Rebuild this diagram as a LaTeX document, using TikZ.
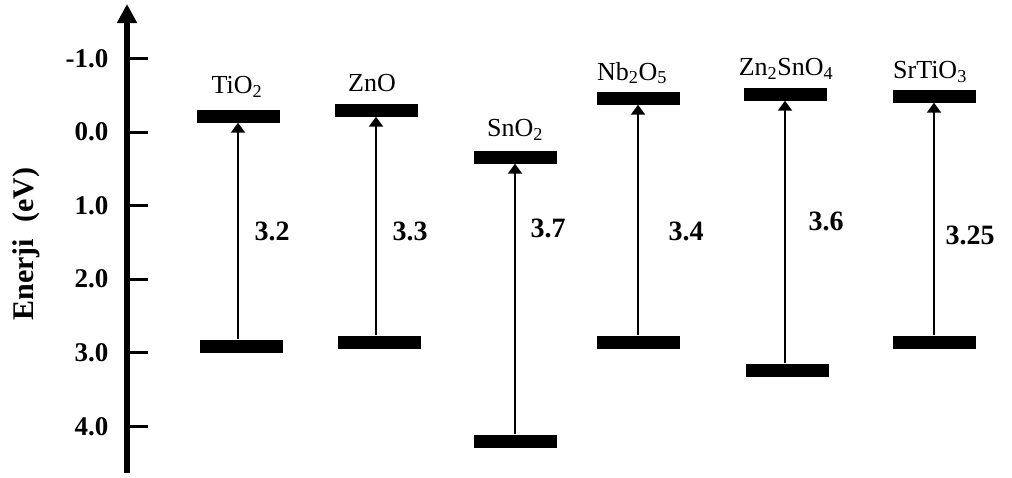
\documentclass[tikz,border=0pt]{standalone}
\usepackage{fontspec}
\setmainfont{Liberation Serif}
\usetikzlibrary{arrows.meta}
\begin{document}
\begin{tikzpicture}[x=1pt,y=-1pt,
  band/.style={fill=black,inner sep=0pt,minimum width=83pt,minimum height=13pt},
  gap/.style={line width=2pt,-{Triangle[width=14pt,length=10pt]}},
  oxide/.style={font=\fontsize{26}{26}\selectfont},
  value/.style={font=\fontsize{28}{28}\selectfont\bfseries},
  ticklab/.style={anchor=east,font=\fontsize{27}{27}\selectfont\bfseries},
  tickmark/.style={line width=3pt}]
\useasboundingbox (0,0) rectangle (1012,477);

% energy axis
\coordinate (axbot) at (127,473);
\coordinate (axtop) at (127,4);
\draw[line width=5.5pt,-{Triangle[width=19pt,length=19pt]}] (axbot) -- (axtop);
\foreach \e/\lab [count=\i] in {-1/-1.0,0/0.0,1/1.0,2/2.0,3/3.0,4/4.0}{
  \coordinate (t\i) at (129,{132+73.6*\e});
  \coordinate (te\i) at (148,{132+73.6*\e});
  \draw[tickmark] (t\i) -- (te\i);
  \node[ticklab] (tl\i) at (112,{132+73.6*\e}) {\lab};
}
\node[rotate=90,font=\fontsize{30}{30}\selectfont\bfseries] (ylab) at (26,244) {Enerji\hspace{0.55em}(eV)};

% TiO2
\node[band] (tiCB) at (238,116) {};
\node[band] (tiVB) at (241,346) {};
\node[oxide] (tiL) at (237,87) {TiO\textsubscript{2}};
\draw[gap] (tiVB.north -| tiCB) -- (tiCB.south);
\node[value] (tiV) at (272,231) {3.2};

% ZnO
\node[band] (znCB) at (376,110) {};
\node[band] (znVB) at (379,342) {};
\node[oxide] (znL) at (372,83) {ZnO};
\draw[gap] (znVB.north -| znCB) -- (znCB.south);
\node[value] (znV) at (410,231) {3.3};

% SnO2
\node[band] (snCB) at (515,157) {};
\node[band] (snVB) at (515,441) {};
\node[oxide] (snL) at (515,130) {SnO\textsubscript{2}};
\draw[gap] (snVB.north) -- (snCB.south);
\node[value] (snV) at (548,228) {3.7};

% Nb2O5
\node[band] (nbCB) at (638,98) {};
\node[band] (nbVB) at (638,342) {};
\node[oxide] (nbL) at (632,73) {Nb\textsubscript{2}O\textsubscript{5}};
\draw[gap] (nbVB.north) -- (nbCB.south);
\node[value] (nbV) at (686,231) {3.4};

% Zn2SnO4
\node[band] (zsCB) at (785,94) {};
\node[band] (zsVB) at (787,370) {};
\node[oxide] (zsL) at (786,69) {Zn\textsubscript{2}SnO\textsubscript{4}};
\draw[gap] (zsVB.north -| zsCB) -- (zsCB.south);
\node[value] (zsV) at (826,221) {3.6};

% SrTiO3
\node[band] (stCB) at (934,96) {};
\node[band] (stVB) at (934,342) {};
\node[oxide] (stL) at (930,72) {SrTiO\textsubscript{3}};
\draw[gap] (stVB.north) -- (stCB.south);
\node[value] (stV) at (970,235) {3.25};
\end{tikzpicture}
\end{document}
